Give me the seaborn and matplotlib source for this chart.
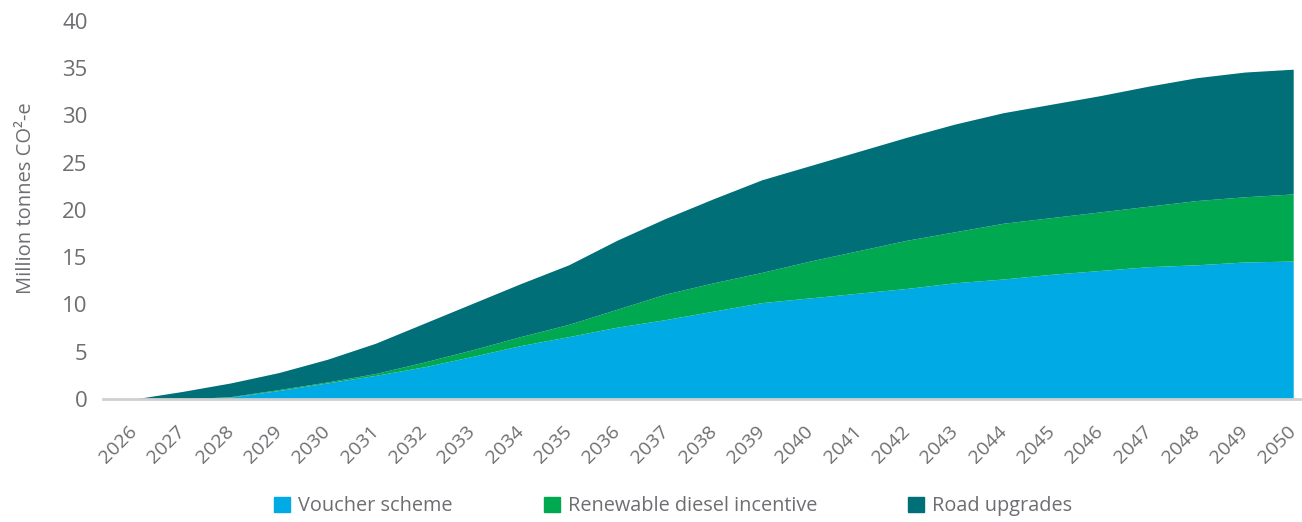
import matplotlib
matplotlib.use('Agg')
import matplotlib.pyplot as plt
import matplotlib.patches as mpatches
import matplotlib.transforms as mtransforms
import seaborn as sns

# Datos (millones de toneladas CO2-e, por año)
years = list(range(2026, 2051))
voucher = [0, 0, 0.2, 0.9, 1.7, 2.5, 3.4, 4.5, 5.65, 6.6, 7.6, 8.4, 9.3,
           10.2, 10.7, 11.2, 11.7, 12.3, 12.7, 13.2, 13.6, 14.0, 14.2, 14.5, 14.6]
diesel = [0, 0, 0.05, 0.1, 0.1, 0.2, 0.5, 0.7, 0.95, 1.3, 1.9, 2.7, 3.0,
          3.2, 3.9, 4.5, 5.1, 5.4, 5.9, 6.0, 6.2, 6.4, 6.8, 6.9, 7.1]
road = [0, 0.8, 1.45, 1.8, 2.4, 3.2, 4.1, 4.9, 5.6, 6.3, 7.3, 8.0, 8.9,
        9.8, 10.1, 10.5, 10.9, 11.4, 11.7, 12.0, 12.3, 12.7, 13.0, 13.2, 13.2]
series_labels = ['Voucher scheme', 'Renewable diesel incentive', 'Road upgrades']
colores = ['#00aae4', '#00a94f', '#006f78']
gris = '#6d6e71'

sns.set_theme(style='white')
plt.rcParams['font.family'] = ['Open Sans', 'DejaVu Sans']

fig = plt.figure(figsize=(13.02, 5.22), dpi=100)
ax = fig.add_axes([103 / 1302, 1 - 399 / 522, 1 - 103 / 1302, (399 - 21) / 522])

ax.stackplot(years, voucher, diesel, road, colors=colores, linewidth=0)

ax.set_xlim(2026 - 31 / 48.3, 2026 + (1302 - 134) / 48.3)
ax.set_ylim(0, 40)
ax.set_yticks(range(0, 41, 5))
ax.set_xticks(years)
ax.set_xticklabels([str(y) for y in years], rotation=45, ha='right',
                   rotation_mode='anchor', fontsize=14, color=gris)
ax.tick_params(axis='y', labelsize=16, colors=gris, length=0, pad=11)
ax.tick_params(axis='x', length=0, pad=17)

# desplazar un poco las etiquetas del eje x hacia la izquierda
desplazamiento = mtransforms.ScaledTranslation(-6 / 100, 0, fig.dpi_scale_trans)
for etiqueta in ax.get_xticklabels():
    etiqueta.set_transform(etiqueta.get_transform() + desplazamiento)

for lado in ['top', 'right', 'left']:
    ax.spines[lado].set_visible(False)
ax.spines['bottom'].set_color('#d0d0d0')
ax.spines['bottom'].set_linewidth(2)

ax.set_ylabel('Million tonnes CO²-e', fontsize=14.5, color=gris)
ax.yaxis.set_label_coords(-67 / 1199, (399 - 198) / 378)

# Leyenda
handles = [mpatches.Patch(color=c, label=l) for c, l in zip(colores, series_labels)]
fig.legend(handles=handles, loc='center', bbox_to_anchor=(0.517, 1 - 506 / 522),
           ncol=3, frameon=False, fontsize=14.3, labelcolor=gris,
           handlelength=0.8, handleheight=0.8, handletextpad=0.4,
           columnspacing=4.6, borderaxespad=0)

fig.savefig('out.png', dpi=100)
